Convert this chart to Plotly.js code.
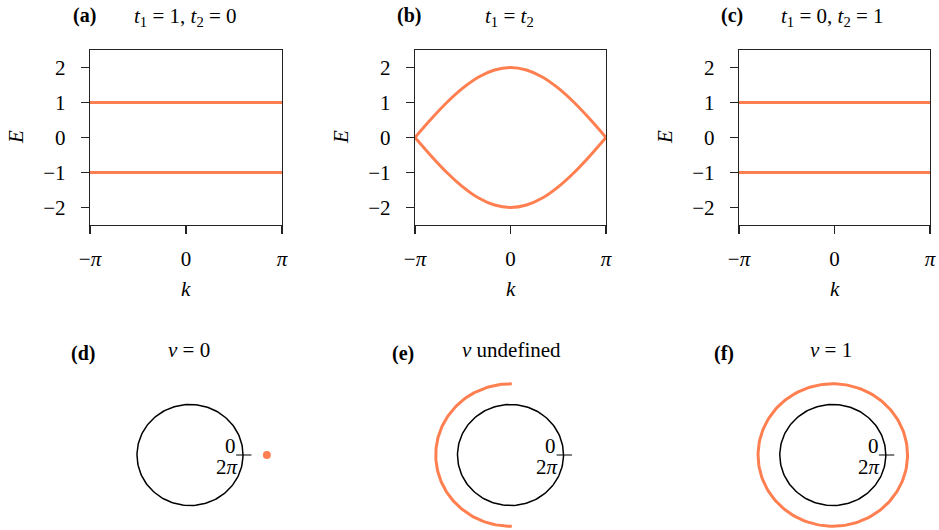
<!DOCTYPE html>
<html>
<head>
<meta charset="utf-8">
<script src="https://cdn.plot.ly/plotly-3.0.1.min.js"></script>
<style>
  html, body { margin: 0; padding: 0; background: #fff; }
  #chart { width: 939px; height: 530px; }
</style>
</head>
<body>
<div id="chart"></div>
<script>
// ---- band structure data (E versus k) ----
const kEnds = [-Math.PI, Math.PI];
const bandFlatUpper = [1, 1];
const bandFlatLower = [-1, -1];

// panel (b): t1 = t2, bands touch at k = ±π
const kSamples = [-3.1416, -2.618, -2.0944, -1.5708, -1.0472, -0.5236, 0,
                  0.5236, 1.0472, 1.5708, 2.0944, 2.618, 3.1416];
const bandUpperB = [0, 0.52, 1.0, 1.41, 1.73, 1.93, 2.0, 1.93, 1.73, 1.41, 1.0, 0.52, 0];
const bandLowerB = [0, -0.52, -1.0, -1.41, -1.73, -1.93, -2.0, -1.93, -1.73, -1.41, -1.0, -0.52, 0];

const eTicks = [-2, -1, 0, 1, 2];
const kTickVals = [-Math.PI, 0, Math.PI];
const kTickText = ['\u2212<i>\u03c0</i>', '0', '<i>\u03c0</i>'];

const topTitles = [
  ['(a)', '<i>t</i><sub>1</sub> = 1, <i>t</i><sub>2</sub> = 0'],
  ['(b)', '<i>t</i><sub>1</sub> = <i>t</i><sub>2</sub>'],
  ['(c)', '<i>t</i><sub>1</sub> = 0, <i>t</i><sub>2</sub> = 1']
];

// ---- winding pictures ----
const loopRadius = 1;              // black reference loop, k from 0 to 2π
const loopTick = [0.87, 1.16];     // start/end mark on the loop
const dotD = [1.45, 0];            // (d) d(k) stays at a point
const arcRadiusE = 1.41;           // (e) half arc
const arcSpanE = [89, 271];        // degrees
const ringRadiusF = 1.41;          // (f) full ring around the origin
const bottomTitles = [
  ['(d)', '<i>\u03bd</i> = 0'],
  ['(e)', '<i>\u03bd</i> undefined'],
  ['(f)', '<i>\u03bd</i> = 1']
];

const ORANGE = '#FF7F50';
const FONT = 'Liberation Serif, DejaVu Serif, serif';
const FS = 21;
const W = 939, H = 530;
const px = v => v / W;
const py = v => 1 - v / H;

function arcPoints(r, a0, a1, n) {
  const xs = [], ys = [];
  for (let i = 0; i <= n; i++) {
    const a = (a0 + (a1 - a0) * i / n) * Math.PI / 180;
    xs.push(r * Math.cos(a));
    ys.push(r * Math.sin(a));
  }
  return [xs, ys];
}

function note(x, y, text, extra) {
  return Object.assign({xref: 'paper', yref: 'paper', x: px(x), y: py(y), text: text,
    showarrow: false, xanchor: 'center', yanchor: 'middle',
    font: {family: FONT, size: FS, color: '#000'}}, extra || {});
}

const traces = [];
const bandLine = {color: ORANGE, width: 3};

// (a)
traces.push({x: kEnds, y: bandFlatUpper, xaxis: 'x', yaxis: 'y', mode: 'lines', line: bandLine});
traces.push({x: kEnds, y: bandFlatLower, xaxis: 'x', yaxis: 'y', mode: 'lines', line: bandLine});
// (b)
traces.push({x: kSamples, y: bandUpperB, xaxis: 'x2', yaxis: 'y2', mode: 'lines',
             line: {color: ORANGE, width: 3, shape: 'spline', smoothing: 1}});
traces.push({x: kSamples, y: bandLowerB, xaxis: 'x2', yaxis: 'y2', mode: 'lines',
             line: {color: ORANGE, width: 3, shape: 'spline', smoothing: 1}});
// (c)
traces.push({x: kEnds, y: bandFlatUpper, xaxis: 'x3', yaxis: 'y3', mode: 'lines', line: bandLine});
traces.push({x: kEnds, y: bandFlatLower, xaxis: 'x3', yaxis: 'y3', mode: 'lines', line: bandLine});

// bottom row: reference loop + tick in each panel
const loop = arcPoints(loopRadius, 0, 360, 180);
[['x4', 'y4'], ['x5', 'y5'], ['x6', 'y6']].forEach(([xa, ya]) => {
  traces.push({x: loop[0], y: loop[1], xaxis: xa, yaxis: ya, mode: 'lines',
               line: {color: '#000', width: 1.5}, cliponaxis: false});
  traces.push({x: loopTick, y: [0, 0], xaxis: xa, yaxis: ya, mode: 'lines',
               line: {color: '#000', width: 1.2}, cliponaxis: false});
});
// (d) dot
traces.push({x: [dotD[0]], y: [dotD[1]], xaxis: 'x4', yaxis: 'y4', mode: 'markers',
             marker: {color: ORANGE, size: 8}, cliponaxis: false});
// (e) arc
const arcE = arcPoints(arcRadiusE, arcSpanE[0], arcSpanE[1], 120);
traces.push({x: arcE[0], y: arcE[1], xaxis: 'x5', yaxis: 'y5', mode: 'lines',
             line: {color: ORANGE, width: 3}, cliponaxis: false});
// (f) ring
const ringF = arcPoints(ringRadiusF, 0, 360, 180);
traces.push({x: ringF[0], y: ringF[1], xaxis: 'x6', yaxis: 'y6', mode: 'lines',
             line: {color: ORANGE, width: 3}, cliponaxis: false});

// ---- axes ----
const topY = [py(225), py(50)];
const topX = [[90, 282], [415, 606], [739, 930]];
const layout = {
  width: W, height: H,
  margin: {l: 0, r: 0, t: 0, b: 0},
  paper_bgcolor: '#fff', plot_bgcolor: '#fff',
  showlegend: false,
  font: {family: FONT, size: FS, color: '#000'},
  annotations: [],
};

topX.forEach((d, i) => {
  const s = i === 0 ? '' : String(i + 1);
  layout['xaxis' + s] = {
    domain: [px(d[0]), px(d[1])], anchor: 'y' + s,
    range: [-Math.PI, Math.PI], tickvals: kTickVals, ticktext: kTickText,
    ticks: 'outside', ticklen: 8, tickwidth: 1.2, tickcolor: '#222',
    showline: true, mirror: true, linecolor: '#222', linewidth: 1.3,
    showgrid: false, zeroline: false, fixedrange: true,
    ticklabelstandoff: 6,
    tickfont: {family: FONT, size: FS}
  };
  layout['yaxis' + s] = {
    domain: topY, anchor: 'x' + s,
    range: [-2.5, 2.5], tickvals: eTicks,
    ticks: 'outside', ticklen: 8, tickwidth: 1.2, tickcolor: '#222',
    showline: true, mirror: true, linecolor: '#222', linewidth: 1.3,
    showgrid: false, zeroline: false, fixedrange: true,
    ticklabelstandoff: 11,
    tickfont: {family: FONT, size: FS}
  };
  const cx = (d[0] + d[1]) / 2;
  layout.annotations.push(note(cx, 289, '<i>k</i>'));
  layout.annotations.push(note(d[0] - 74, 137, '<i>E</i>', {textangle: -90}));
});

// titles for the top row
const topTitlePos = [[84, 185], [409, 509], [732, 832]];
topTitles.forEach((t, i) => {
  layout.annotations.push(note(topTitlePos[i][0], 16, '<b>' + t[0] + '</b>', {font: {family: FONT, size: 20, color: '#000'}}));
  layout.annotations.push(note(topTitlePos[i][1], 17, t[1]));
});

// bottom row axes (hidden), 53 px per unit in x, 50.5 px per unit in y
const botCenters = [190, 510.5, 832.8];
botCenters.forEach((c, i) => {
  const n = i + 4;
  layout['xaxis' + n] = {domain: [px(c - 84.8), px(c + 84.8)], anchor: 'y' + n,
    range: [-1.6, 1.6], visible: false, fixedrange: true};
  layout['yaxis' + n] = {domain: [py(529.75), py(380.25)], anchor: 'x' + n,
    range: [-1.48, 1.48], visible: false, fixedrange: true};
  layout.annotations.push({xref: 'x' + n, yref: 'y' + n, x: 0.76, y: 0.18,
    xanchor: 'center', yanchor: 'middle',
    text: '0', showarrow: false, font: {family: FONT, size: FS, color: '#000'}});
  layout.annotations.push({xref: 'x' + n, yref: 'y' + n, x: 0.69, y: -0.23,
    xanchor: 'center', yanchor: 'middle',
    text: '2<i>\u03c0</i>', showarrow: false, font: {family: FONT, size: FS, color: '#000'}});
});

const botTitlePos = [[83, 189], [403, 511], [724, 831]];
bottomTitles.forEach((t, i) => {
  layout.annotations.push(note(botTitlePos[i][0], 353, '<b>' + t[0] + '</b>', {font: {family: FONT, size: 20, color: '#000'}}));
  layout.annotations.push(note(botTitlePos[i][1], 350, t[1]));
});

Plotly.newPlot('chart', traces, layout, {staticPlot: true, displayModeBar: false});
</script>
</body>
</html>
